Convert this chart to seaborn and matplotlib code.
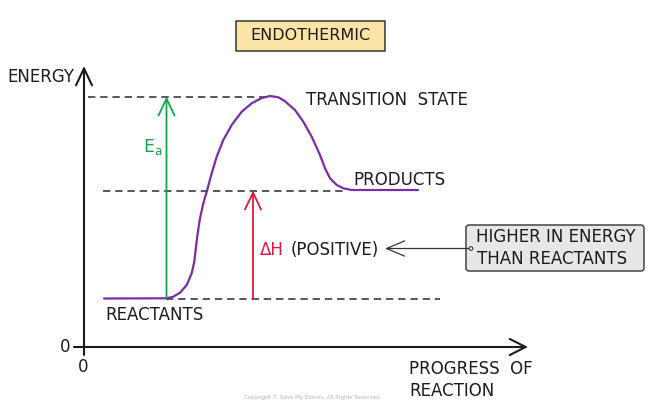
import numpy as np
import pandas as pd
import matplotlib
matplotlib.use("Agg")
import matplotlib.pyplot as plt
from matplotlib.patches import Rectangle, FancyBboxPatch, Circle
import seaborn as sns

# ---------------- data (progress units, energy units) ----------------
progress = [20, 82.7, 89.3, 96, 102.7, 107.7, 110.3, 112, 113.7, 116, 119.3,
            122.7, 127.7, 132.7, 139.3, 147.7, 157.7, 167.7, 177.7, 186,
            194.3, 200.3, 211, 219.3, 227.7, 236, 241, 246, 252.7, 259.3,
            267.7, 334]
energy = [48.5, 48.7, 50.3, 54.3, 62, 73.7, 85.3, 100.3, 113.7, 128.7, 143.7,
          155.3, 173.7, 190.3, 207, 222, 235.3, 243.7, 249, 251,
          249.7, 246.3, 237, 225.3, 210.3, 192, 178.7, 168.7, 162, 158.7,
          157, 157]

reactant_level = 48.5
product_level = 156.5
ts_level = 250.5

level_names = ["transition", "products", "reactants"]
level_values = [ts_level, product_level, reactant_level]
level_starts = [4, 19, 82]
level_ends = [182, 263, 356]

ea_x = 82.5
dh_x = 169

title_text = "ENDOTHERMIC"
note_lines = ["HIGHER IN ENERGY", "THAN REACTANTS"]

# ---------------- figure ----------------
sns.set_style("white")
plt.rcParams['font.family'] = ['DejaVu Sans']
fig = plt.figure(figsize=(6.53, 4.01), dpi=100)
ax = fig.add_axes([0, 0, 1, 1])
ax.set_xlim(-84, 569)
ax.set_ylim(-54, 347)
ax.axis("off")

INK = "#1c1c1c"
PURPLE = "#7a2ea6"
GREEN = "#18a24a"
RED = "#e3173e"
FS = 12

# dashed guide levels
for v, s, e in zip(level_values, level_starts, level_ends):
    ax.plot([s, e], [v, v], color="#2a2a2a", lw=1.1,
            linestyle=(0, (4.8, 3.2)), zorder=2)

# energy profile
df = pd.DataFrame({"progress": progress, "energy": energy})
sns.lineplot(data=df, x="progress", y="energy", sort=False, ax=ax,
             color=PURPLE, lw=1.6, zorder=4)
ax.lines[-1].set_solid_joinstyle("round")

def arrow(tail, tip, color, lw=1.3, hl=1.22, hw=0.58):
    ax.annotate("", xy=tip, xytext=tail,
                arrowprops=dict(arrowstyle=f"->,head_length={hl},head_width={hw}",
                                mutation_scale=10, lw=lw, color=color,
                                shrinkA=0, shrinkB=0), zorder=5)

# axes
arrow((0, -8), (0, 281), INK, lw=1.5)
arrow((-10, 0), (444, 0), INK, lw=1.5, hl=1.15)

# Ea and dH arrows
arrow((ea_x, reactant_level), (ea_x, ts_level), GREEN)
arrow((dh_x, reactant_level), (dh_x, product_level), RED)

# annotation arrow
arrow((387, 98.5), (301, 98.5), "#333333", lw=0.9, hl=1.3, hw=0.55)
ax.add_patch(Circle((387, 98.5), 1.8, fill=True, fc="white", ec="#333333",
                    lw=0.8, zorder=6))

# boxes
ax.add_patch(Rectangle((152, 296), 149, 30, fc="#fce3a6", ec="#333333",
                       lw=1.1, zorder=3))
ax.text(226.5, 311, title_text, ha="center", va="center", fontsize=11.5,
        color=INK, zorder=4)

ax.add_patch(FancyBboxPatch((382, 76), 178, 46,
                            boxstyle="round,pad=0,rounding_size=3",
                            fc="#e7e7e7", ec="#444444", lw=1.1, zorder=3))
ax.text(392, 109.5, note_lines[0], ha="left", va="center", fontsize=FS,
        color=INK, zorder=4)
ax.text(393, 88, note_lines[1], ha="left", va="center", fontsize=FS,
        color=INK, zorder=4)

# labels
ax.text(-77, 270, "ENERGY", ha="left", va="center", fontsize=FS, color=INK)
ax.text(-19, 0, "0", ha="center", va="center", fontsize=FS, color=INK)
ax.text(-1, -20.5, "0", ha="center", va="center", fontsize=FS, color=INK)
ax.text(222, 247, "TRANSITION  STATE", ha="left", va="center", fontsize=FS,
        color=INK)
ax.text(269, 167, "PRODUCTS", ha="left", va="center", fontsize=FS, color=INK)
ax.text(21, 32.5, "REACTANTS", ha="left", va="center", fontsize=FS, color=INK)
ax.text(59, 200, r"E$_{\mathregular{a}}$", ha="left", va="center",
        fontsize=FS + 0.5, color=GREEN)
ax.text(176, 97, "ΔH", ha="left", va="center", fontsize=FS, color=RED)
ax.text(207, 97, "(POSITIVE)", ha="left", va="center", fontsize=FS, color=INK)
ax.text(325, -22, "PROGRESS  OF", ha="left", va="center", fontsize=FS,
        color=INK)
ax.text(325, -44, "REACTION", ha="left", va="center", fontsize=FS, color=INK)
ax.text(227.5, -50, "Copyright © Save My Exams. All Rights Reserved",
        ha="center", va="center", fontsize=4, color="#b5b5b5")

fig.savefig("out.png", dpi=100)
